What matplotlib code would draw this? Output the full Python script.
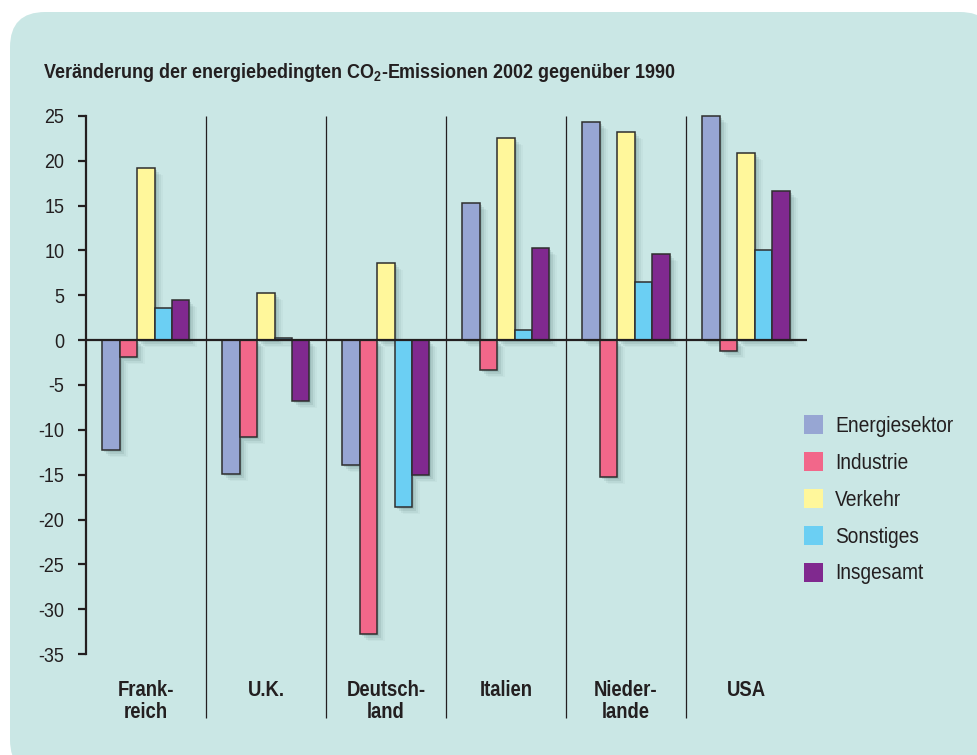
import matplotlib
matplotlib.use("Agg")
import matplotlib.pyplot as plt
from matplotlib import font_manager as fm
from matplotlib.patches import FancyBboxPatch, Rectangle
from matplotlib.transforms import offset_copy
import numpy as np

# ---------------- data ----------------
countries = ["Frank-\nreich", "U.K.", "Deutsch-\nland", "Italien", "Nieder-\nlande", "USA"]
series = ["Energiesektor", "Industrie", "Verkehr", "Sonstiges", "Insgesamt"]
energiesektor = [-12.3, -14.9, -13.9, 15.3, 24.3, 25.0]
industrie = [-1.9, -10.8, -32.8, -3.3, -15.3, -1.2]
verkehr = [19.2, 5.3, 8.6, 22.6, 23.2, 20.9]
sonstiges = [3.6, 0.25, -18.6, 1.1, 6.5, 10.0]
insgesamt = [4.5, -6.8, -15.0, 10.3, 9.6, 16.6]
yticks = [25, 20, 15, 10, 5, 0, -5, -10, -15, -20, -25, -30, -35]
title = "Veränderung der energiebedingten CO$_\\mathbf{2}$-Emissionen 2002 gegenüber 1990"

values = [energiesektor, industrie, verkehr, sonstiges, insgesamt]
colors = ["#97a6d3", "#f2678a", "#fff79b", "#6bcff3", "#80298f"]


# ---------------- fonts: build a condensed sans at runtime ----------------
def make_condensed(src, dst, sx, newname):
    from fontTools.ttLib import TTFont
    f = TTFont(src)
    glyf = f["glyf"]
    hmtx = f["hmtx"]
    for gname in f.getGlyphOrder():
        g = glyf[gname]
        if g.isComposite():
            for comp in g.components:
                comp.x = int(round(comp.x * sx))
        elif g.numberOfContours > 0:
            coords = g.coordinates
            for i in range(len(coords)):
                xx, yy = coords[i]
                coords[i] = (int(round(xx * sx)), yy)
        adv, lsb = hmtx[gname]
        hmtx[gname] = (int(round(adv * sx)), int(round(lsb * sx)))
    for gname in f.getGlyphOrder():
        g = glyf[gname]
        if g.numberOfContours != 0:
            g.recalcBounds(glyf)
            adv, _ = hmtx[gname]
            hmtx[gname] = (adv, g.xMin)
    if "kern" in f:
        for kt in f["kern"].kernTables:
            if hasattr(kt, "kernTable"):
                for k in list(kt.kernTable.keys()):
                    kt.kernTable[k] = int(round(kt.kernTable[k] * sx))
    for rec in f["name"].names:
        if rec.nameID in (1, 4, 6, 16):
            try:
                rec.string = newname if rec.nameID != 6 else newname.replace(" ", "")
            except Exception:
                pass
    f.save(dst)


FAM = None
try:
    reg = fm.findfont(fm.FontProperties(family="Liberation Sans"), fallback_to_default=False)
    bold = fm.findfont(fm.FontProperties(family="Liberation Sans", weight="bold"), fallback_to_default=False)
    make_condensed(reg, "cond_regular.ttf", 0.86, "CondSans")
    make_condensed(bold, "cond_bold.ttf", 0.86, "CondSans")
    fm.fontManager.addfont("cond_regular.ttf")
    fm.fontManager.addfont("cond_bold.ttf")
    FAM = "CondSans"
except Exception:
    FAM = "Roboto"

plt.rcParams["font.family"] = [FAM, "DejaVu Sans"]
plt.rcParams["mathtext.fontset"] = "custom"
plt.rcParams["mathtext.rm"] = FAM
plt.rcParams["mathtext.bf"] = FAM + ":bold"

TXT = "#231f20"
W, H = 978, 755
fig = plt.figure(figsize=(W / 100, H / 100), dpi=100)
fig.patch.set_facecolor("white")

# panel background
panel = FancyBboxPatch((10 / W, 0 - 20 / H), 985 / W, (743 + 20) / H,
                       boxstyle="round,pad=0,rounding_size=0.036",
                       transform=fig.transFigure, facecolor="#cae7e5",
                       edgecolor="none", zorder=-5, mutation_aspect=W / H)
fig.patches.append(panel)

# axes placement in pixels
L, R, T, B = 86, 806, 100, 720
ax = fig.add_axes([L / W, 1 - B / H, (R - L) / W, (B - T) / H])
ax.set_facecolor("none")
ax.set_zorder(1)
u = (654 - 116) / 60.0
y0 = 116 + 25 * u
ax.set_xlim(0, 6)
ax.set_ylim((y0 - B) / u, (y0 - T) / u)

bw = 17.4 / 120
x = np.arange(len(countries))
for j, (vals, c) in enumerate(zip(values, colors)):
    xs = x + 0.5 + (j - 2) * bw
    # soft shadow
    for (dx, dy, a) in [(2, -2, 0.16), (4, -4, 0.11), (6, -6, 0.07), (8, -7, 0.04)]:
        tr = offset_copy(ax.transData, fig=fig, x=dx, y=dy, units="dots")
        ax.bar(xs, vals, width=bw, color="#3f6664", alpha=a, linewidth=0,
               transform=tr, zorder=2)
    ax.bar(xs, vals, width=bw, color=c, edgecolor="#2e2e2e", linewidth=1.1,
           zorder=3)

# separators
bottom_val = (y0 - 718) / u
for i in range(1, 6):
    ax.plot([i, i], [25, bottom_val], color=TXT, lw=0.9, zorder=1,
            clip_on=False, solid_capstyle="butt")

# zero line
ax.plot([0, 6.01], [0, 0], color=TXT, lw=1.6, zorder=4, clip_on=False,
        solid_capstyle="butt")

# axes styling
for s in ["top", "right", "bottom"]:
    ax.spines[s].set_visible(False)
ax.spines["left"].set_bounds(-35, 25)
ax.spines["left"].set_linewidth(1.6)
ax.spines["left"].set_color(TXT)
ax.set_yticks(yticks)
ax.set_yticklabels([str(v) for v in yticks])
ax.tick_params(axis="y", length=6, width=1.6, color=TXT, pad=9.5,
               labelsize=15, labelcolor=TXT)
ax.set_xticks([])

# category labels
for i, lab in enumerate(countries):
    ax.text(i + 0.5, (y0 - 680) / u, lab, ha="center", va="top",
            fontsize=15.5, fontweight="bold", color=TXT, linespacing=1.05)

# title
fig.text(43 / W, 1 - 72 / H, title, ha="left", va="center", fontsize=15,
         fontweight="bold", color=TXT)

# legend
for k, (name, c) in enumerate(zip(series, colors)):
    top = 415 + 37 * k
    fig.patches.append(Rectangle((804 / W, 1 - (top + 19) / H), 19 / W, 19 / H,
                                 transform=fig.transFigure, facecolor=c,
                                 edgecolor="none", zorder=5))
    fig.text(835 / W, 1 - (top + 11) / H, name, ha="left", va="center",
             fontsize=16, color=TXT)

fig.savefig("out.png", dpi=100, facecolor=fig.get_facecolor())
